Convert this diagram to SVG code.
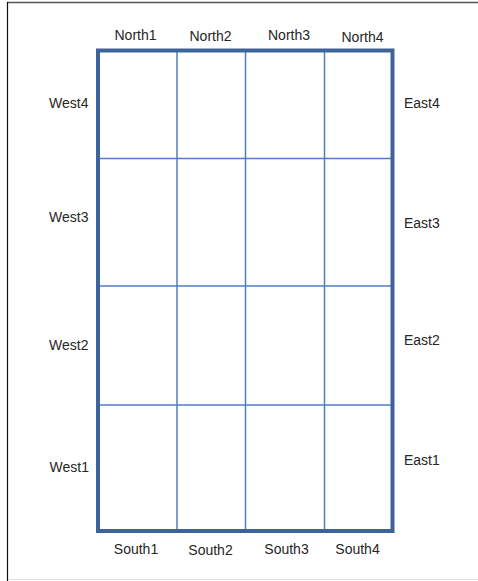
<svg xmlns="http://www.w3.org/2000/svg" width="478" height="581" viewBox="0 0 478 581">
<style>
.lbl{font-family:"Liberation Sans",Arial,sans-serif;font-size:14px;fill:#262626}
.thin{stroke:#4f7cc4;stroke-width:1.5;fill:none}
.thick{stroke:#3d6399;stroke-width:4;fill:none}
</style>
<rect width="478" height="581" fill="#ffffff"/>
<g id="frame">
<line x1="7" y1="2.5" x2="478" y2="2.5" stroke="#555" stroke-width="1.5"/>
<line x1="7.5" y1="2" x2="7.5" y2="581" stroke="#111" stroke-width="1.2"/>
<line x1="8" y1="579.5" x2="478" y2="579.5" stroke="#ddd" stroke-width="1"/>
</g>
<g id="connectors">
<line class="thin" x1="177" y1="50.5" x2="177" y2="531"/>
<line class="thin" x1="245.5" y1="50.5" x2="245.5" y2="531"/>
<line class="thin" x1="324.5" y1="50.5" x2="324.5" y2="531"/>
<line class="thin" x1="98" y1="158.5" x2="392.5" y2="158.5"/>
<line class="thin" x1="98" y1="286" x2="392.5" y2="286"/>
<line class="thin" x1="98" y1="405" x2="392.5" y2="405"/>
</g>
<g id="grid">
<rect class="thick" x="98" y="50.5" width="294.5" height="480.5"/>
</g>
<g id="north">
<text class="lbl" x="135.5" y="39.5" text-anchor="middle">North1</text>
<text class="lbl" x="210.5" y="41" text-anchor="middle">North2</text>
<text class="lbl" x="289" y="40" text-anchor="middle">North3</text>
<text class="lbl" x="362.5" y="41.5" text-anchor="middle">North4</text>
</g>
<g id="south">
<text class="lbl" x="136" y="553.5" text-anchor="middle">South1</text>
<text class="lbl" x="210.5" y="555" text-anchor="middle">South2</text>
<text class="lbl" x="286.5" y="553.5" text-anchor="middle">South3</text>
<text class="lbl" x="357.5" y="553.5" text-anchor="middle">South4</text>
</g>
<g id="west">
<text class="lbl" x="88.5" y="107.5" text-anchor="end">West4</text>
<text class="lbl" x="88.5" y="222" text-anchor="end">West3</text>
<text class="lbl" x="88.5" y="350" text-anchor="end">West2</text>
<text class="lbl" x="89" y="472" text-anchor="end">West1</text>
</g>
<g id="east">
<text class="lbl" x="404" y="107.5">East4</text>
<text class="lbl" x="404" y="227.5">East3</text>
<text class="lbl" x="404" y="344.5">East2</text>
<text class="lbl" x="404" y="464.5">East1</text>
</g>
</svg>
